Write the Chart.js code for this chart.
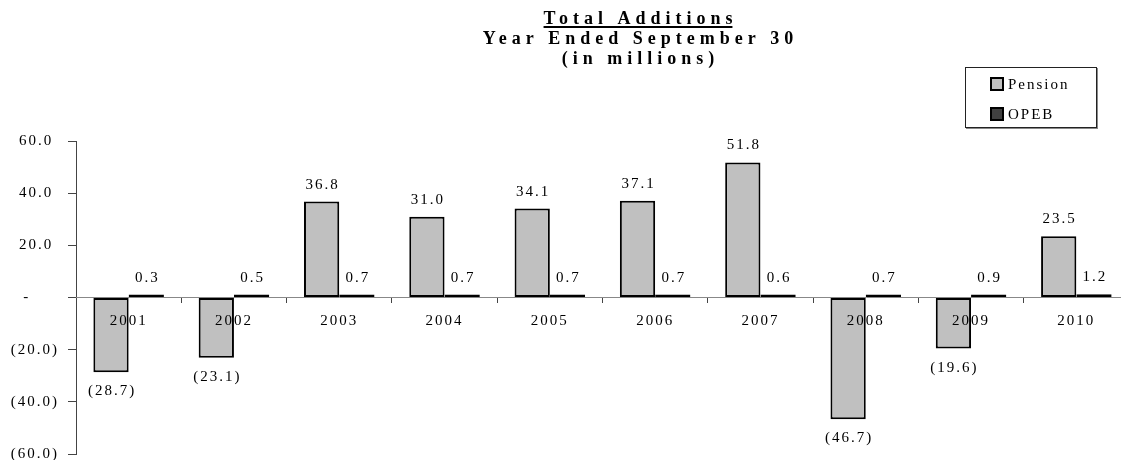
<!DOCTYPE html>
<html>
<head>
<meta charset="utf-8">
<script src="https://cdn.jsdelivr.net/npm/chart.js@4.4.1/dist/chart.umd.min.js"></script>
<style>
  html, body { margin: 0; padding: 0; background: #fff; overflow: hidden; }
  #wrap { position: relative; width: 1129px; height: 472px; }
  #legend {
    position: absolute; left: 965px; top: 67px; width: 130px; height: 59px;
    border: 1px solid #222; box-shadow: 1px 1px 0 #888; background: #fff;
    font-family: "Liberation Serif", "Times New Roman", serif; font-size: 15px;
    letter-spacing: 2px; color: #000;
  }
  .item { position: absolute; left: 24px; height: 16px; line-height: 16px; white-space: nowrap; }
  .item span { display: inline-block; width: 10px; height: 10px; border: 2px solid #000; vertical-align: -2px; margin-right: 4px; }
</style>
</head>
<body>
<div id="wrap">
  <canvas id="chart"></canvas>
  <div id="legend">
    <div class="item" style="top:8px"><span style="background:#c0c0c0"></span>Pension</div>
    <div class="item" style="top:38px"><span style="background:#404040"></span>OPEB</div>
  </div>
</div>
<script>
const years = ["2001", "2002", "2003", "2004", "2005", "2006", "2007", "2008", "2009", "2010"];
const pension = [-28.7, -23.1, 36.8, 31.0, 34.1, 37.1, 51.8, -46.7, -19.6, 23.5];
const opeb = [0.3, 0.5, 0.7, 0.7, 0.7, 0.7, 0.6, 0.7, 0.9, 1.2];
const yTicks = [60, 40, 20, 0, -20, -40, -60];
const titleLines = ["Total Additions", "Year Ended September 30", "(in millions)"];

const serif = "'Liberation Serif', 'Times New Roman', serif";

function fmt(v) {
  if (v === 0) return "-";
  if (v < 0) return "(" + Math.abs(v).toFixed(1) + ")";
  return v.toFixed(1);
}

// canvas text in the original is spread out
const spacingPlugin = {
  id: "spacing",
  beforeUpdate(chart) { chart.ctx.letterSpacing = "2px"; },
  beforeDraw(chart) { chart.ctx.letterSpacing = "2px"; }
};

const titlePlugin = {
  id: "titleText",
  afterDraw(chart) {
    const ctx = chart.ctx;
    ctx.save();
    ctx.letterSpacing = "5px";
    ctx.font = "bold 18px " + serif;
    ctx.fillStyle = "#000";
    ctx.textAlign = "center";
    ctx.textBaseline = "alphabetic";
    const cx = 638 + 2.5;
    const base = [24, 44, 64];
    titleLines.forEach((t, i) => ctx.fillText(t, cx, base[i]));
    // underline first line
    const w = ctx.measureText(titleLines[0]).width - 5;
    ctx.fillRect(638 - w / 2, base[0] + 2, w, 2);
    ctx.restore();
  }
};

const valueLabels = {
  id: "valueLabels",
  afterDatasetsDraw(chart) {
    const ctx = chart.ctx;
    ctx.save();
    ctx.letterSpacing = "2px";
    ctx.font = "15px " + serif;
    ctx.fillStyle = "#000";
    ctx.textAlign = "center";
    ctx.textBaseline = "alphabetic";
    chart.data.datasets.forEach((ds, di) => {
      chart.getDatasetMeta(di).data.forEach((bar, i) => {
        const v = ds.data[i];
        const y = v >= 0 ? bar.y - 13 : bar.y + 23;
        ctx.fillText(fmt(v), bar.x + 1, y);
      });
    });
    ctx.restore();
  }
};

new Chart(document.getElementById("chart"), {
  type: "bar",
  data: {
    labels: years,
    datasets: [
      {
        label: "Pension",
        data: pension,
        backgroundColor: "#c0c0c0",
        borderColor: "#000",
        borderWidth: 2,
        borderSkipped: false
      },
      {
        label: "OPEB",
        data: opeb,
        backgroundColor: "#222222",
        borderColor: "#000",
        borderWidth: 1.5,
        borderSkipped: false,
        minBarLength: 3
      }
    ]
  },
  options: {
    responsive: true,
    maintainAspectRatio: false,
    animation: false,
    devicePixelRatio: 1,
    layout: { padding: { top: 141, bottom: 7, left: 0, right: 0 } },
    datasets: { bar: { categoryPercentage: 0.67, barPercentage: 1.0 } },
    plugins: {
      legend: { display: false },
      title: { display: false },
      tooltip: { enabled: false }
    },
    scales: {
      x: {
        position: { y: 0 },
        afterFit(scale) { scale.height = 0; },
        grid: { offset: true, drawOnChartArea: false, tickLength: 5, color: "#444", z: 1 },
        border: { color: "#888", width: 1, z: 1 },
        ticks: {
          z: 1,
          color: "#000",
          font: { family: serif, size: 15 },
          padding: 10,
          maxRotation: 0,
          autoSkip: false
        }
      },
      y: {
        min: -60,
        max: 60,
        afterBuildTicks(scale) { scale.ticks = yTicks.map((v) => ({ value: v })); },
        afterFit(scale) { scale.width = 76; },
        grid: { drawOnChartArea: false, tickLength: 8, color: "#444" },
        border: { color: "#444", width: 1 },
        ticks: {
          color: "#000",
          font: { family: serif, size: 15 },
          padding: 9,
          callback(v) {
            if (v === 0) return "-     ";
            return v > 0 ? fmt(v) + " " : fmt(v);
          }
        }
      }
    }
  },
  plugins: [spacingPlugin, titlePlugin, valueLabels]
});
</script>
</body>
</html>
